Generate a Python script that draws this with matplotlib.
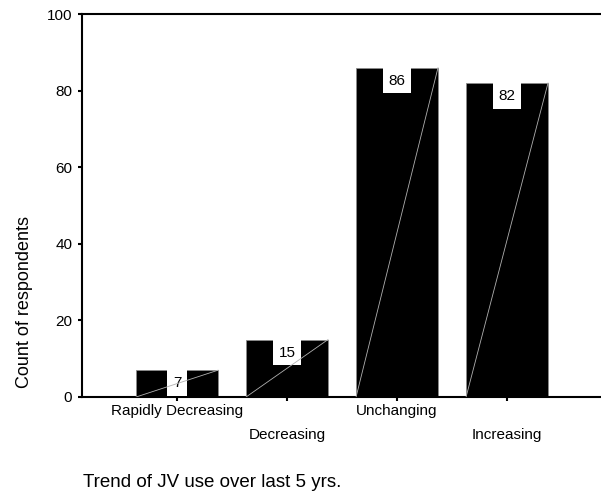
import matplotlib
matplotlib.use("Agg")
import matplotlib.pyplot as plt
import numpy as np

categories = ["Rapidly Decreasing", "Decreasing", "Unchanging", "Increasing"]
counts = [7, 15, 86, 82]
yticks = [0, 20, 40, 60, 80, 100]
ylabel = "Count of respondents"
xtitle = "Trend of JV use over last 5 yrs."

plt.rcParams['font.family'] = ['Liberation Sans', 'DejaVu Sans']

W, H = 601, 496
fig = plt.figure(figsize=(W / 100, H / 100), dpi=100)
ax = fig.add_axes([82 / W, 1 - 397 / H, 518 / W, (397 - 14) / H])

x = np.arange(len(categories))
bw = 0.745
bars = ax.bar(x, counts, width=bw, color='black', edgecolor='#8a8a8a', linewidth=0.6, zorder=2)

for rect, v in zip(bars, counts):
    x0 = rect.get_x()
    x1 = x0 + rect.get_width()
    ax.plot([x0, x1], [0, v], color='#b0b0b0', lw=0.6, zorder=5)
    ax.annotate(str(v), xy=(rect.get_x() + rect.get_width() / 2, v),
                xytext=(0, -4.3), textcoords='offset points',
                ha='center', va='top', fontsize=11, color='black', zorder=4,
                bbox=dict(boxstyle='square,pad=0.38', fc='white', ec='none'))

ax.set_xlim(-0.864, 3.845)
ax.set_ylim(0, 100)
ax.set_yticks(yticks)
ax.set_yticklabels([str(t) for t in yticks], fontsize=11)
ax.set_xticks(x)
ax.set_xticklabels(categories, fontsize=11)

ax.tick_params(axis='both', direction='out', length=3, width=1.5, color='black')
ax.tick_params(axis='y', pad=4)
for i, tk in enumerate(ax.xaxis.get_major_ticks()):
    tk.set_pad(2.2 if i % 2 == 0 else 19.5)

for s in ['left', 'bottom', 'top']:
    ax.spines[s].set_linewidth(1.5)
    ax.spines[s].set_color('black')
ax.spines['right'].set_visible(False)

fig.text(25 / W, 1 - 302 / H, ylabel, rotation=90, ha='center', va='center', fontsize=13)
fig.text(83 / W, 1 - 487 / H, xtitle, ha='left', va='baseline', fontsize=13.5)

fig.savefig("out.png", dpi=100)
